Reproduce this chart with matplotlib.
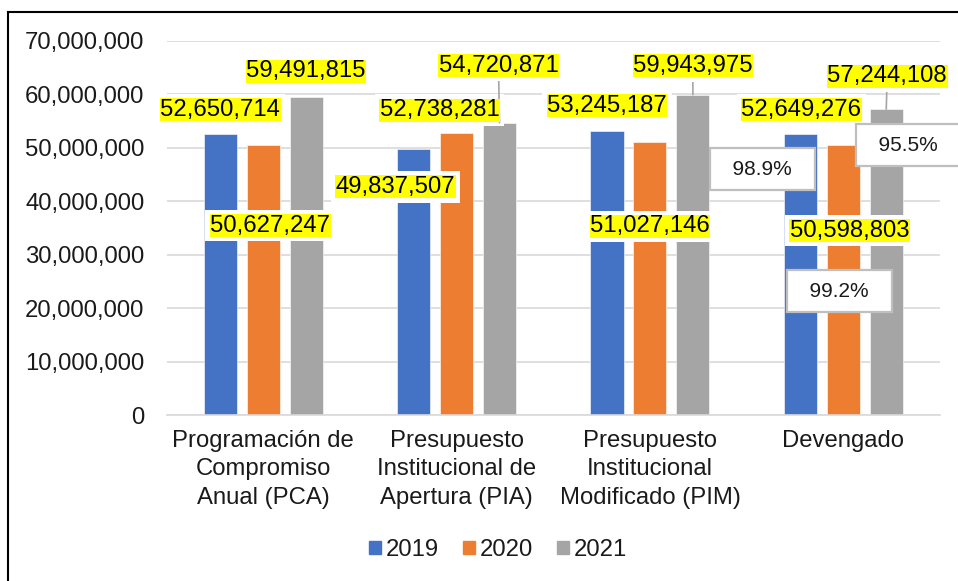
import matplotlib
matplotlib.use("Agg")
import matplotlib.pyplot as plt
from matplotlib.lines import Line2D
from matplotlib.patches import Patch
import numpy as np

# --- data --------------------------------------------------------------
categories = ["Programación de\nCompromiso\nAnual (PCA)",
              "Presupuesto\nInstitucional de\nApertura (PIA)",
              "Presupuesto\nInstitucional\nModificado (PIM)",
              "Devengado"]
years = ["2019", "2020", "2021"]
v2019 = [52650714, 49837507, 53245187, 52649276]
v2020 = [50627247, 52738281, 51027146, 50598803]
v2021 = [59491815, 54720871, 59943975, 57244108]
pct_labels = ["98.9%", "95.5%", "99.2%"]

# --- styling / placement ------------------------------------------------
COLORS = ["#4472C4", "#ED7D31", "#A5A5A5"]
GRID = "#D9D9D9"
TXT = "#1a1a1a"
FONT = "Liberation Sans"
FS = 17.2
PX = 0.72  # points per pixel at dpi 100

# label offsets from bar top (pixels, +up), per series then per category
label_off = [
    [(0, 24), (-18, -38), (0, 25), (1, 24)],
    [(7, -81), (-17, 23), (0, -84), (6, -86)],
    [(0, 26), (-1, 57), (0, 29), (1, 33)],
]
leader = [[False] * 4, [False] * 4, [False, True, True, True]]
# percentage callouts (data coords of text centre)
pct_pos = [(2.58, 46.0e6), (3.335, 50.5e6), (2.98, 23.2e6)]

plt.rcParams["font.family"] = [FONT, "DejaVu Sans"]

fig = plt.figure(figsize=(9.58, 5.81), dpi=100)
ax = fig.add_axes([166.5 / 958, (581 - 415) / 581, (940 - 166.5) / 958, (415 - 41) / 581])

x = np.arange(len(categories))
width, step = 0.171, 0.222
series = [v2019, v2020, v2021]
for i, vals in enumerate(series):
    ax.bar(x + (i - 1) * step, vals, width, color=COLORS[i], label=years[i],
           edgecolor="white", linewidth=0.4, zorder=2)

ax.set_xlim(-0.5, 3.5)
ax.set_ylim(0, 70e6)
ax.set_yticks(np.arange(0, 70e6 + 1, 10e6))
ax.set_yticklabels([f"{int(t):,}" for t in ax.get_yticks()], fontsize=FS, color=TXT)
ax.set_xticks(x)
ax.set_xticklabels(categories, fontsize=FS, color=TXT, linespacing=1.36)
ax.tick_params(axis="both", length=0)
ax.tick_params(axis="y", pad=16)
ax.tick_params(axis="x", pad=11)
ax.grid(axis="y", color=GRID, linewidth=1.2, zorder=0)
ax.set_axisbelow(True)
for s in ("left", "right", "top"):
    ax.spines[s].set_visible(False)
ax.spines["bottom"].set_color(GRID)
ax.spines["bottom"].set_linewidth(1.2)

# data labels: white label box + yellow highlight on the text
for i, vals in enumerate(series):
    for j, v in enumerate(vals):
        dx, dy = label_off[i][j]
        xy = (x[j] + (i - 1) * step, v)
        txt = f"{v:,}"
        arrow = dict(arrowstyle="-", color="#A6A6A6", lw=1.2, shrinkA=0, shrinkB=0) if leader[i][j] else None
        ax.annotate(txt, xy=xy, xytext=(dx * PX, dy * PX), textcoords="offset points",
                    ha="center", va="center", fontsize=FS, color="none",
                    bbox=dict(boxstyle="square,pad=0.2", fc="white", ec="none"),
                    arrowprops=arrow, zorder=4, annotation_clip=False)
        ax.annotate(txt, xy=xy, xytext=(dx * PX, dy * PX), textcoords="offset points",
                    ha="center", va="center", fontsize=FS, color="black",
                    bbox=dict(boxstyle="square,pad=0.02", fc="#FFFF00", ec="none"),
                    zorder=5, annotation_clip=False)

for lab, (px_, py_) in zip(pct_labels, pct_pos):
    ax.text(px_, py_, f"  {lab}  ", ha="center", va="center", fontsize=15, color=TXT,
            bbox=dict(boxstyle="square,pad=0.55", fc="white", ec="#BFBFBF", lw=1.6),
            zorder=6)

handles = [Patch(color=c, label=y) for c, y in zip(COLORS, years)]
fig.legend(handles=handles, loc="center", bbox_to_anchor=(0.52, 1 - 550 / 581), ncol=3,
           frameon=False, fontsize=FS, handlelength=0.5, handleheight=0.5,
           handletextpad=0.2, columnspacing=1.0, labelcolor=TXT)

# chart-area border (top and left edges visible in the crop)
fig.add_artist(Line2D([8 / 958, 8 / 958], [0, 1 - 12 / 581], color="black", lw=1.5,
                      transform=fig.transFigure))
fig.add_artist(Line2D([8 / 958, 1], [1 - 12 / 581, 1 - 12 / 581], color="black", lw=1.5,
                      transform=fig.transFigure))

fig.savefig("out.png", dpi=100)
